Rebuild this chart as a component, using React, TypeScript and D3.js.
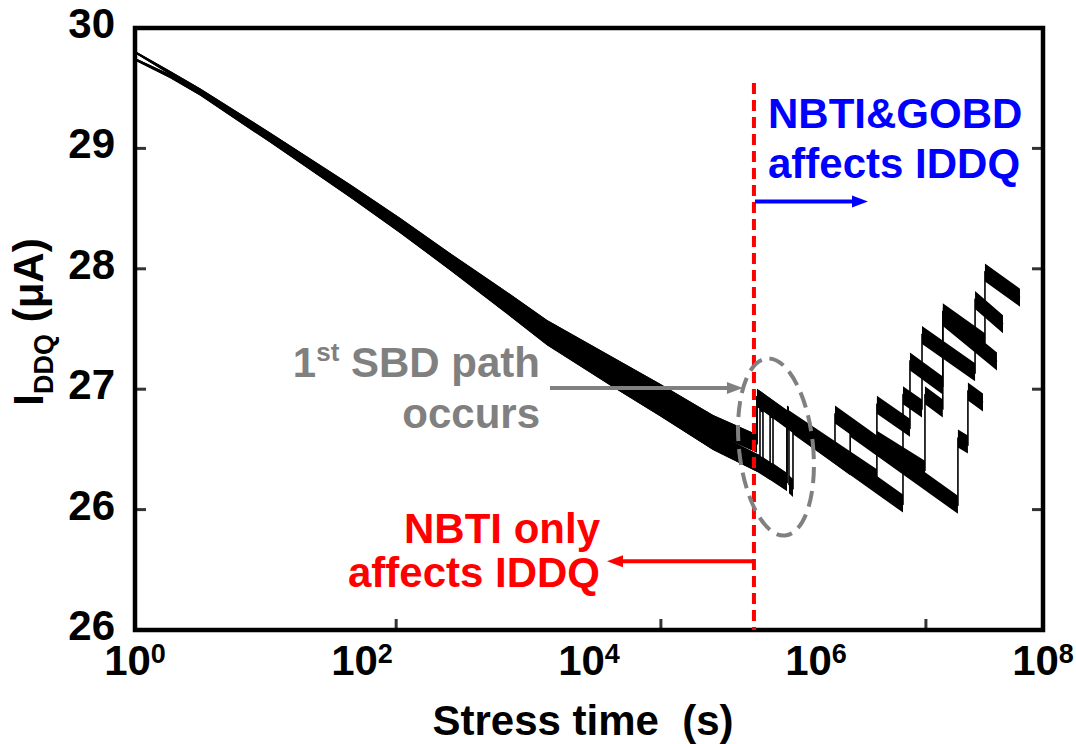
import React from 'react';
import * as d3 from 'd3';

// ---- data ----
// x tick labels (exponents of 10) and inner tick-mark positions (s)
const xLabelExps = [0, 2, 4, 6, 8];
const xTickMarks = [200, 43000, 9.3e6];
// y ticks
const yTickValues = [30, 29, 28, 27, 26, 25];
const yTickLabels = ['30', '29', '28', '27', '26', '26'];

// [stress time (s), IDDQ (uA)] – NBTI-only part, two groups of samples
const preUpper: number[][] = [
  [1, 29.8], [2.03, 29.63], [3.74, 29.48], [15.5, 29.1], [78, 28.66], [216, 28.37],
  [596, 28.07], [1640, 27.78], [4270, 27.5], [16300, 27.19], [42300, 26.97],
  [124000, 26.71], [302000, 26.55],
];
const preLower: number[][] = [
  [1, 29.74], [2.03, 29.6], [3.74, 29.46], [15.5, 29.08], [78, 28.64], [216, 28.35],
  [596, 28.05], [1640, 27.74], [4270, 27.44], [16300, 27.09], [42300, 26.85],
  [124000, 26.57], [302000, 26.39],
];
// after soft-breakdown events (steps)
const trace1Post: number[][] = [
  [3.02e5, 26.93], [1.47e6, 26.47], [1.47e6, 26.79], [3.44e6, 26.54], [3.44e6, 26.87],
  [6.73e6, 26.68], [6.73e6, 27.23], [1.31e7, 27.03], [1.31e7, 27.64], [3.08e7, 27.39],
  [3.08e7, 27.97], [6.27e7, 27.76],
];
const trace2Post: number[][] = [
  [3.21e5, 26.38], [3.21e5, 26.89], [3.41e5, 26.88], [3.41e5, 26.36], [3.94e5, 26.32],
  [3.94e5, 26.84], [4.18e5, 26.83], [4.18e5, 26.31], [5.55e5, 26.23], [5.55e5, 26.79],
  [5.78e5, 26.78], [5.78e5, 26.21], [6.27e5, 26.18], [6.27e5, 26.7], [5.84e6, 26.05],
  [5.84e6, 26.95], [8.59e6, 26.84], [8.59e6, 27.45], [2.52e7, 27.14], [2.52e7, 27.74],
  [4.44e7, 27.54],
];
const trace3Post: number[][] = [
  [3.02e5, 26.93], [2.0e6, 26.36], [2.0e6, 26.68], [1.78e7, 26.04], [1.78e7, 26.59],
  [2.18e7, 26.54], [2.18e7, 26.98], [2.96e7, 26.89],
];
const trace4Post: number[][] = [
  [3.94e5, 26.32], [5.55e5, 26.23], [5.55e5, 26.76], [3.44e6, 26.26], [3.44e6, 26.58],
  [9.12e6, 26.33], [9.12e6, 26.95], [1.31e7, 26.84], [1.31e7, 27.6], [3.93e7, 27.23],
];

const traces = [
  preUpper.concat(trace1Post),
  preLower.concat(trace2Post),
  preUpper.concat(trace3Post),
  preLower.concat(trace4Post),
];

// annotation anchors (data coordinates)
const breakdownTime = 2.84e5;
const redArrowEnd = 14400;
const blueArrowEnd = 2.87e6;
const grayArrow = { from: 4530, to: 2.27e5, v: 27.01 };
const ellipseCenter = { t: 4.44e5, v: 26.52 };

const W = 1076;
const H = 744;
const L = 135, R = 1043, T = 28, B = 630;
const FONT = '"Liberation Sans", Arial, Helvetica, sans-serif';

export default function App() {
  const x = d3.scaleLog().domain([1, 1e8]).range([L, R]);
  const y = d3.scaleLinear().domain([25, 30]).range([B, T]);

  const half = (t: number) => 1.2 + 7.8 * Math.max(0, Math.min(1, Math.log10(t) / 3.5));
  const area = d3
    .area<number[]>()
    .x((d) => x(d[0]))
    .y0((d) => y(d[1]) + half(d[0]))
    .y1((d) => y(d[1]) - half(d[0]));
  const line = d3
    .line<number[]>()
    .x((d) => x(d[0]))
    .y((d) => y(d[1]));

  const xb = x(breakdownTime);
  const redY = y(25.57);
  const blueY = y(28.56);
  const gy = y(grayArrow.v);
  const ex = x(ellipseCenter.t);
  const ey = y(ellipseCenter.v);

  return (
    <svg
      width={W}
      height={H}
      style={{ position: 'absolute', left: 0, top: 0, background: '#fff' }}
      fontFamily={FONT}
      fontWeight="bold"
    >
      <rect x={0} y={0} width={W} height={H} fill="#fff" />

      {/* traces */}
      {traces.map((tr, i) => (
        <g key={i}>
          <path d={area(tr) || ''} fill="#000" />
          <path d={line(tr) || ''} fill="none" stroke="#000" strokeWidth={1.6} />
        </g>
      ))}

      {/* ticks */}
      {xTickMarks.map((t, i) => (
        <line key={'xt' + i} x1={x(t)} x2={x(t)} y1={B} y2={B - 11} stroke="#333" strokeWidth={3} />
      ))}
      {yTickValues.slice(1, 5).map((v, i) => (
        <g key={'yt' + i}>
          <line x1={L} x2={L + 11} y1={y(v)} y2={y(v)} stroke="#333" strokeWidth={3} />
          <line x1={R} x2={R - 11} y1={y(v)} y2={y(v)} stroke="#333" strokeWidth={3} />
        </g>
      ))}

      {/* frame */}
      <rect x={L} y={T} width={R - L} height={B - T} fill="none" stroke="#000" strokeWidth={4.5} />

      {/* tick labels */}
      {yTickValues.map((v, i) => (
        <text key={'yl' + i} x={115} y={y(v) + 10} textAnchor="end" fontSize={42} fill="#000">
          {yTickLabels[i]}
        </text>
      ))}
      {xLabelExps.map((e) => (
        <text key={'xl' + e} x={x(Math.pow(10, e))} y={675} textAnchor="middle" fontSize={42} fill="#000">
          10
          <tspan fontSize={27} dy={-12}>
            {e}
          </tspan>
        </text>
      ))}

      {/* axis titles */}
      <text x={583} y={735} textAnchor="middle" fontSize={42} fill="#000" style={{ whiteSpace: 'pre' }}>
        {'Stress time  (s)'}
      </text>
      <text transform="translate(43,322) rotate(-90)" textAnchor="middle" fontSize={42} fill="#000">
        I
        <tspan fontSize={27} dy={10}>
          DDQ
        </tspan>
        <tspan dy={-10}> (μA)</tspan>
      </text>

      {/* red dashed breakdown line */}
      <line x1={xb} x2={xb} y1={83} y2={B} stroke="#ff0000" strokeWidth={4} strokeDasharray="11 6" />

      {/* gray ellipse */}
      <ellipse
        cx={ex}
        cy={ey}
        rx={37}
        ry={89}
        transform={`rotate(-6 ${ex} ${ey})`}
        fill="none"
        stroke="#808080"
        strokeWidth={4}
        strokeDasharray="16 8"
      />

      {/* red arrow */}
      <line x1={xb} x2={x(redArrowEnd) + 12} y1={redY} y2={redY} stroke="#ff0000" strokeWidth={4} />
      <path
        d={`M${x(redArrowEnd)},${redY} L${x(redArrowEnd) + 16},${redY - 6} L${x(redArrowEnd) + 16},${redY + 6} Z`}
        fill="#ff0000"
      />
      {/* blue arrow */}
      <line x1={xb + 1} x2={x(blueArrowEnd) - 12} y1={blueY} y2={blueY} stroke="#0000ff" strokeWidth={4} />
      <path
        d={`M${x(blueArrowEnd)},${blueY} L${x(blueArrowEnd) - 16},${blueY - 6} L${x(blueArrowEnd) - 16},${blueY + 6} Z`}
        fill="#0000ff"
      />
      {/* gray arrow */}
      <line x1={x(grayArrow.from)} x2={x(grayArrow.to) - 12} y1={gy} y2={gy} stroke="#808080" strokeWidth={4} />
      <path
        d={`M${x(grayArrow.to)},${gy} L${x(grayArrow.to) - 16},${gy - 6} L${x(grayArrow.to) - 16},${gy + 6} Z`}
        fill="#808080"
      />

      {/* annotations */}
      <text x={768} y={128} fontSize={42} fill="#0000ff">NBTI&amp;GOBD</text>
      <text x={768} y={178} fontSize={42} fill="#0000ff">affects IDDQ</text>

      <text x={600} y={543} textAnchor="end" fontSize={42} fill="#ff0000">NBTI only</text>
      <text x={600} y={587} textAnchor="end" fontSize={42} fill="#ff0000">affects IDDQ</text>

      <text x={540} y={377} textAnchor="end" fontSize={42} fill="#808080">
        1<tspan fontSize={26} dy={-16}>st</tspan>
        <tspan dy={16}> SBD path</tspan>
      </text>
      <text x={540} y={428} textAnchor="end" fontSize={42} fill="#808080">occurs</text>
    </svg>
  );
}
